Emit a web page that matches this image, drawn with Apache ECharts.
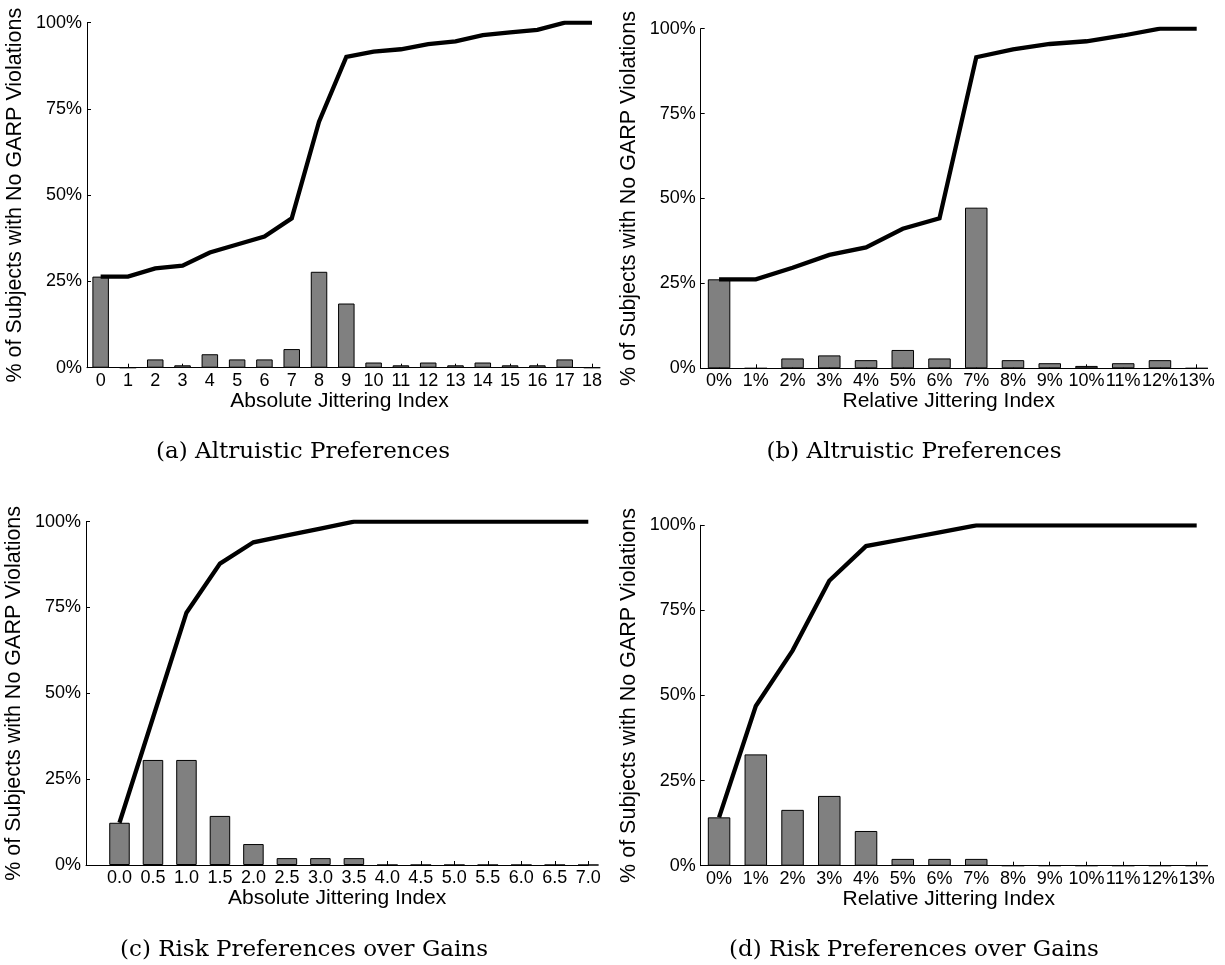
<!DOCTYPE html>
<html>
<head>
<meta charset="utf-8">
<script src="https://cdn.jsdelivr.net/npm/echarts@6/dist/echarts.min.js"></script>
<style>
  html, body { margin: 0; padding: 0; background: #fff; }
  #chart { width: 1225px; height: 965px; }
</style>
</head>
<body>
<div id="chart"></div>
<script>
// ---------- data ----------
const absCatsA = ['0','1','2','3','4','5','6','7','8','9','10','11','12','13','14','15','16','17','18'];
const altAbsHist = [26.4, 0, 2.4, 0.7, 3.9, 2.4, 2.4, 5.4, 27.8, 18.6, 1.5, 0.7, 1.5, 0.7, 1.5, 0.7, 0.7, 2.4, 0];
const altAbsCum  = [26.4, 26.4, 28.8, 29.6, 33.4, 35.7, 38.0, 43.3, 71.3, 90.1, 91.6, 92.3, 93.8, 94.6, 96.4, 97.2, 97.9, 100, 100];

const relCats = ['0%','1%','2%','3%','4%','5%','6%','7%','8%','9%','10%','11%','12%','13%'];
const altRelHist = [26.2, 0, 2.9, 3.8, 2.4, 5.4, 2.9, 47.3, 2.4, 1.5, 0.7, 1.5, 2.4, 0];
const altRelCum  = [26.2, 26.2, 29.6, 33.4, 35.6, 41.1, 44.2, 91.6, 93.9, 95.5, 96.3, 98.0, 100, 100];

const absCatsC = ['0.0','0.5','1.0','1.5','2.0','2.5','3.0','3.5','4.0','4.5','5.0','5.5','6.0','6.5','7.0'];
const riskAbsHist = [12.3, 30.6, 30.6, 14.3, 6.1, 2.0, 2.0, 2.0, 0, 0, 0, 0, 0, 0, 0];
const riskAbsCum  = [12.3, 42.9, 73.5, 87.8, 94.0, 96.0, 98.0, 100, 100, 100, 100, 100, 100, 100, 100];

const riskRelHist = [14.2, 32.7, 16.4, 20.5, 10.2, 2.0, 2.0, 2.0, 0, 0, 0, 0, 0, 0];
const riskRelCum  = [14.2, 46.9, 63.2, 83.7, 93.9, 95.9, 97.9, 100, 100, 100, 100, 100, 100, 100];

const yName = '% of Subjects with No GARP Violations';
const xNameAbs = 'Absolute Jittering Index';
const xNameRel = 'Relative Jittering Index';
const captions = ['(a) Altruistic Preferences', '(b) Altruistic Preferences',
                  '(c) Risk Preferences over Gains', '(d) Risk Preferences over Gains'];

// ---------- layout ----------
const panels = [
  { cats: absCatsA, hist: altAbsHist, cum: altAbsCum, xName: xNameAbs, min: -0.5, max: 18,
    grid: { left: 87, top: 22.7, width: 505, height: 345 }, barW: 16.5, cap: [303, 452] },
  { cats: relCats, hist: altRelHist, cum: altRelCum, xName: xNameRel, min: -0.5, max: 13,
    grid: { left: 700.7, top: 28.7, width: 496, height: 339.6 }, barW: 22.5, cap: [914, 452] },
  { cats: absCatsC, hist: riskAbsHist, cum: riskAbsCum, xName: xNameAbs, min: -1, max: 14,
    grid: { left: 86, top: 521.7, width: 502.3, height: 343.3 }, barW: 20.5, cap: [304, 950] },
  { cats: relCats, hist: riskRelHist, cum: riskRelCum, xName: xNameRel, min: -0.5, max: 13,
    grid: { left: 700.7, top: 525.3, width: 496, height: 340.4 }, barW: 22.5, cap: [914, 950] }
];

const FONT = 'Liberation Sans, Arial, sans-serif';
const grids = [], xAxes = [], yAxes = [], series = [], graphics = [];

panels.forEach((p, k) => {
  grids.push(Object.assign({ containLabel: false }, p.grid));
  const idx = p.cats.map((_, i) => i);
  xAxes.push({
    type: 'value', gridIndex: k, min: p.min, max: p.max,
    name: p.xName, nameLocation: 'middle', nameGap: 18,
    nameTextStyle: { fontFamily: FONT, fontSize: 21, color: '#000' },
    axisLine: { show: true, onZero: false, lineStyle: { color: '#000', width: 1 } },
    axisTick: { show: true, inside: true, length: 4, customValues: idx, lineStyle: { color: '#000' } },
    axisLabel: { show: true, customValues: idx, margin: 4, fontFamily: FONT, fontSize: 18, color: '#000',
                 formatter: (v) => p.cats[Math.round(v)] },
    splitLine: { show: false }
  });
  yAxes.push({
    type: 'value', gridIndex: k, min: 0, max: 100, interval: 25,
    name: yName, nameLocation: 'middle', nameGap: 61, nameRotate: 90,
    nameTextStyle: { fontFamily: FONT, fontSize: 21.5, color: '#000' },
    axisLine: { show: true, onZero: false, lineStyle: { color: '#000', width: 1 } },
    axisTick: { show: true, inside: true, length: 4, lineStyle: { color: '#000' } },
    axisLabel: { margin: 5, fontFamily: FONT, fontSize: 18, color: '#000', formatter: '{value}%' },
    splitLine: { show: false }
  });
  series.push({
    type: 'bar', xAxisIndex: k, yAxisIndex: k, barWidth: p.barW,
    data: p.hist.map((v, i) => [i, v]),
    itemStyle: { color: '#808080', borderColor: '#000', borderWidth: 1 },
    z: 2, silent: true
  });
  series.push({
    type: 'line', xAxisIndex: k, yAxisIndex: k,
    data: p.cum.map((v, i) => [i, v]),
    showSymbol: false, symbol: 'none',
    lineStyle: { color: '#000', width: 4.3, cap: 'butt', join: 'miter' },
    z: 5, silent: true
  });
  graphics.push({
    type: 'text', x: p.cap[0], y: p.cap[1],
    style: { text: captions[k], fontFamily: 'DejaVu Serif, Liberation Serif, serif', fontSize: 23,
             fill: '#000', align: 'center', verticalAlign: 'middle' }
  });
});

const chart = echarts.init(document.getElementById('chart'), null, { renderer: 'canvas' });
chart.setOption({
  animation: false,
  backgroundColor: '#fff',
  grid: grids, xAxis: xAxes, yAxis: yAxes, series: series,
  graphic: graphics
});
</script>
</body>
</html>
